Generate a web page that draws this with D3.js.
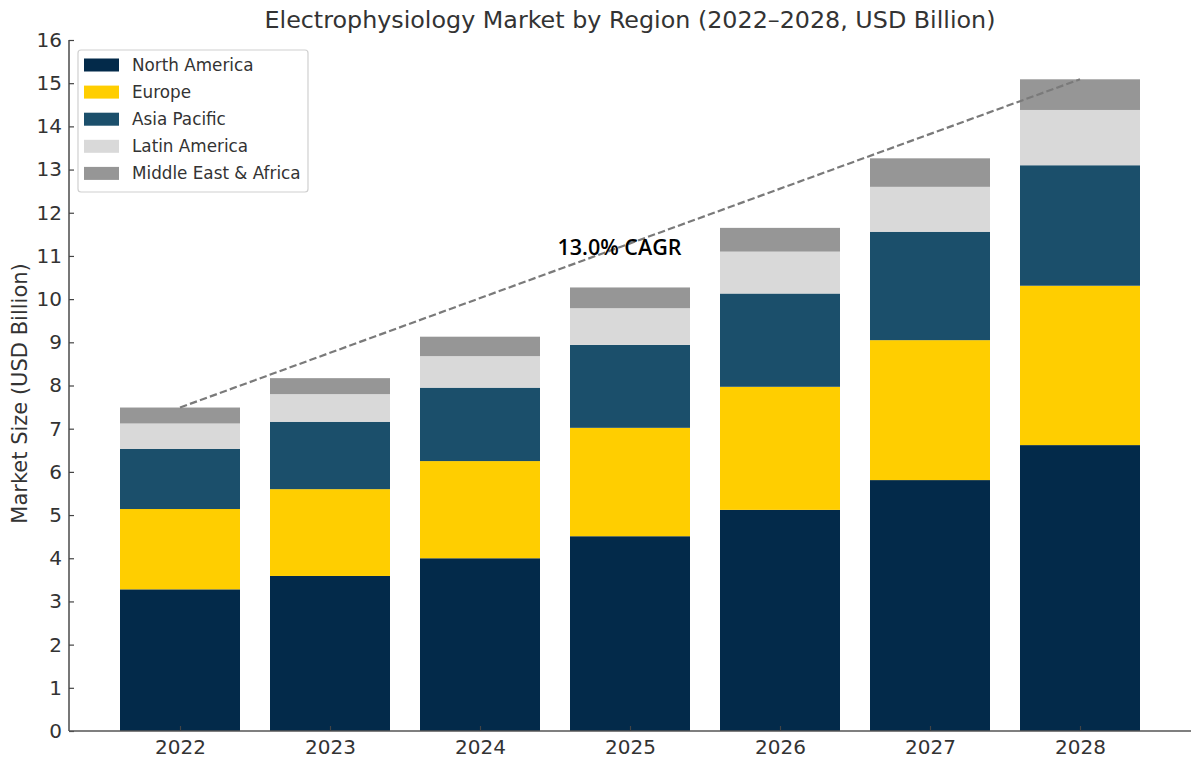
<!DOCTYPE html>
<html><head><meta charset="utf-8">
<script src="https://cdn.jsdelivr.net/npm/d3@7/dist/d3.min.js"></script>
<style>body{margin:0;background:#fff}svg{display:block}</style>
</head><body>
<svg id="chart" width="1192" height="762"></svg>
<script>
const years = ["2022","2023","2024","2025","2026","2027","2028"];
const regions = ["North America","Europe","Asia Pacific","Latin America","Middle East & Africa"];
const northAmerica = [3.28, 3.59, 4.00, 4.51, 5.12, 5.81, 6.62];
const europe       = [1.86, 2.01, 2.25, 2.51, 2.85, 3.24, 3.69];
const asiaPacific  = [1.39, 1.56, 1.70, 1.92, 2.16, 2.51, 2.79];
const latinAmerica = [0.59, 0.64, 0.73, 0.85, 0.97, 1.04, 1.28];
const middleEast   = [0.37, 0.37, 0.45, 0.48, 0.55, 0.66, 0.71];
const yTicks = [0,1,2,3,4,5,6,7,8,9,10,11,12,13,14,15,16];
const colors = ["#032a4a","#ffce00","#1b4f6b","#d9d9d9","#969696"];
const cagrLabel = "13.0% CAGR";
const title = "Electrophysiology Market by Region (2022\u20132028, USD Billion)";
const yLabel = "Market Size (USD Billion)";

const seriesVals = [northAmerica, europe, asiaPacific, latinAmerica, middleEast];
const table = years.map((y,i)=>{const o={year:y}; regions.forEach((r,k)=>o[r]=seriesVals[k][i]); return o;});
const stack = d3.stack().keys(regions)(table);

const svg = d3.select("#chart");
const L=69, R=1191, T=40, B=731;
const x = d3.scaleLinear().domain([-0.74, 6.74]).range([L, R]);
const y = d3.scaleLinear().domain([0, 16]).range([B, T]);
const bw = x(0.8) - x(0);

const font = "'DejaVu Sans', sans-serif";

stack.forEach((s,k)=>{
  svg.append("g").selectAll("rect").data(s).join("rect")
    .attr("x",(d,i)=>x(i)-bw/2)
    .attr("width",bw)
    .attr("y",d=>y(d[1]))
    .attr("height",d=>y(d[0])-y(d[1]))
    .attr("fill",colors[k]);
});

const totals = table.map((d,i)=>d3.sum(regions,r=>d[r]));
const n = years.length-1;
svg.append("line")
  .attr("x1",x(0)).attr("y1",y(totals[0]))
  .attr("x2",x(n)).attr("y2",y(totals[n]))
  .attr("stroke","#7a7a7a").attr("stroke-width",2.2)
  .attr("stroke-dasharray","7.4,3.2");

svg.append("text").attr("x",x(2.93)).attr("y",255)
  .attr("text-anchor","middle").attr("font-family","'Open Sans', sans-serif")
  .attr("font-size",21.5).attr("font-weight",600).attr("fill","#000")
  .text(cagrLabel);

const yAxis = d3.axisLeft(y).tickValues(yTicks).tickSize(-5).tickPadding(7).tickFormat(d3.format("d"));
const gy = svg.append("g").attr("transform",`translate(${L},0)`).call(yAxis);
const xAxis = d3.axisBottom(x).tickValues(d3.range(years.length)).tickSize(-5).tickPadding(9).tickFormat(i=>years[i]);
const gx = svg.append("g").attr("transform",`translate(0,${B})`).call(xAxis);
[gx,gy].forEach(g=>{
  g.select(".domain").attr("stroke","#555").attr("stroke-width",1.6);
  g.selectAll(".tick line").attr("stroke","#444").attr("stroke-width",1.2);
  g.selectAll(".tick text").attr("font-family",font).attr("font-size",20).attr("fill","#333");
});
gy.select(".domain").attr("d",`M0,${B}V${T}`);
gx.select(".domain").attr("d",`M${L},0H${R}`);

svg.append("text").attr("x",(L+R)/2).attr("y",28).attr("text-anchor","middle")
  .attr("font-family",font).attr("font-size",23.8).attr("fill","#333").text(title);

svg.append("text").attr("transform",`translate(27,${(T+B)/2+8}) rotate(-90)`)
  .attr("text-anchor","middle").attr("font-family",font).attr("font-size",21).attr("fill","#333")
  .text(yLabel);

const lg = svg.append("g");
lg.append("rect").attr("x",78).attr("y",50).attr("width",230).attr("height",142)
  .attr("rx",3).attr("fill","#fff").attr("fill-opacity",0.85).attr("stroke","#d0d0d0").attr("stroke-width",1.2);
regions.forEach((r,k)=>{
  const cy = 65 + k*27.1;
  lg.append("rect").attr("x",84).attr("y",cy-6.5).attr("width",35).attr("height",13).attr("fill",colors[k]);
  lg.append("text").attr("x",132).attr("y",cy+6).attr("font-family",font).attr("font-size",16.8)
    .attr("fill","#333").text(r);
});
</script>
</body></html>
